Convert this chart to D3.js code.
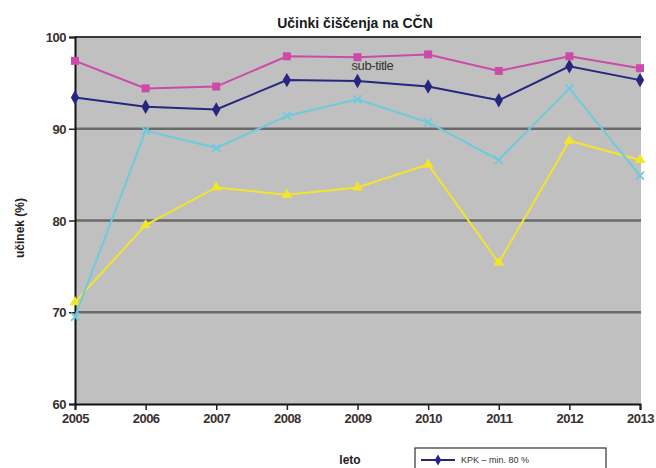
<!DOCTYPE html>
<html>
<head>
<meta charset="utf-8">
<script src="https://cdn.jsdelivr.net/npm/d3@7"></script>
<style>
  body { margin: 0; background: #fff; }
  text { font-family: Arial, "Liberation Sans", sans-serif; }
</style>
</head>
<body>
<div id="chart"></div>
<script>
var svgWidth = 656;
var svgHeight = 468;

var margin = { top: 37, right: 16, bottom: 64, left: 75 };
var width = svgWidth - margin.left - margin.right;
var height = svgHeight - margin.top - margin.bottom;

// data
var years = [2005, 2006, 2007, 2008, 2009, 2010, 2011, 2012, 2013];
var yTicks = [60, 70, 80, 90, 100];
var seriesNames = ["KPK – min. 80 %", "BPK5 – min. 90 %", "Ncel – min. 70 %", "Pcel – min. 80 %"];
var kpk  = [93.4, 92.4, 92.1, 95.3, 95.2, 94.6, 93.1, 96.8, 95.3];
var bpk  = [97.4, 94.4, 94.6, 97.9, 97.8, 98.1, 96.3, 97.9, 96.6];
var ncel = [71.1, 79.5, 83.6, 82.8, 83.6, 86.1, 75.4, 88.7, 86.6];
var pcel = [69.5, 89.8, 87.9, 91.4, 93.2, 90.7, 86.6, 94.4, 84.9];

var series = [
  { name: seriesNames[0], values: kpk,  color: "#262680", marker: d3.symbolDiamond, size: 60 },
  { name: seriesNames[1], values: bpk,  color: "#cc4aa8", marker: d3.symbolSquare,  size: 64 },
  { name: seriesNames[2], values: ncel, color: "#f2e52a", marker: d3.symbolTriangle, size: 50 },
  { name: seriesNames[3], values: pcel, color: "#6ccbdc", marker: "x", size: 0 }
];

var svg = d3.select("#chart")
  .append("svg")
  .attr("width", svgWidth)
  .attr("height", svgHeight);

var chartGroup = svg.append("g")
  .attr("transform", `translate(${margin.left}, ${margin.top})`);

var xScale = d3.scaleLinear()
  .domain([2005, 2013])
  .range([0, width]);

var yScale = d3.scaleLinear()
  .domain([60, 100])
  .range([height, 0]);

// plot background
chartGroup.append("rect")
  .attr("width", width + 1)
  .attr("height", height)
  .attr("fill", "#c0c0c0");

// gridlines
chartGroup.selectAll(".grid")
  .data(yTicks.filter(d => d > 60))
  .enter()
  .append("line")
  .attr("x1", 0)
  .attr("x2", width + 1)
  .attr("y1", d => yScale(d))
  .attr("y2", d => yScale(d))
  .attr("stroke", d => d === 100 ? "#3a3a3a" : "#6a6a6a")
  .attr("stroke-width", d => d === 100 ? 2 : 2.5);

// axes
var leftAxis = d3.axisLeft(yScale).tickValues(yTicks).tickSize(6).tickPadding(3);
var bottomAxis = d3.axisBottom(xScale).tickValues(years).tickFormat(d3.format("d")).tickSize(6).tickPadding(4);

var yAxis = chartGroup.append("g").call(leftAxis);
var xAxis = chartGroup.append("g")
  .attr("transform", `translate(0, ${height})`)
  .call(bottomAxis);

[yAxis, xAxis].forEach(function(ax) {
  ax.select(".domain").attr("stroke", "#111").attr("stroke-width", 2);
  ax.selectAll(".tick line").attr("stroke", "#222").attr("stroke-width", 1.5);
  ax.selectAll("text")
    .attr("fill", "#3a3030")
    .style("font-size", "13px")
    .style("font-weight", "bold")
    .style("letter-spacing", "-0.5px");
});
yAxis.selectAll("text").attr("dy", "0.35em");

// lines and markers
var line = d3.line()
  .x((d, i) => xScale(years[i]))
  .y(d => yScale(d));

series.forEach(function(s) {
  chartGroup.append("path")
    .datum(s.values)
    .attr("d", line)
    .attr("fill", "none")
    .attr("stroke", s.color)
    .attr("stroke-width", 2);

  var pts = chartGroup.selectAll(null)
    .data(s.values)
    .enter()
    .append("g")
    .attr("transform", (d, i) => `translate(${xScale(years[i])}, ${yScale(d)})`);

  if (s.marker === "x") {
    pts.append("path")
      .attr("d", "M-4,-4L4,4M-4,4L4,-4")
      .attr("stroke", s.color)
      .attr("stroke-width", 1.8)
      .attr("fill", "none");
  } else {
    pts.append("path")
      .attr("d", d3.symbol().type(s.marker).size(s.size))
      .attr("fill", s.color);
  }
});

// sub-title inside plot
chartGroup.append("text")
  .attr("x", xScale(2009) - 6)
  .attr("y", 33)
  .attr("fill", "#333")
  .style("font-size", "13px")
  .style("letter-spacing", "-0.4px")
  .text("sub-title");

// title
svg.append("text")
  .attr("x", 355)
  .attr("y", 28)
  .attr("text-anchor", "middle")
  .attr("fill", "#1a1a1a")
  .style("font-size", "14px")
  .style("font-weight", "bold")
  .text("Učinki čiščenja na CČN");

// axis titles
svg.append("text")
  .attr("transform", "translate(24, 228) rotate(-90)")
  .attr("text-anchor", "middle")
  .attr("fill", "#222")
  .style("font-size", "12px")
  .style("font-weight", "bold")
  .text("učinek (%)");

svg.append("text")
  .attr("x", 350)
  .attr("y", 464)
  .attr("text-anchor", "middle")
  .attr("fill", "#222")
  .style("font-size", "12px")
  .style("font-weight", "bold")
  .text("leto");

// legend: the box runs off the bottom of the picture, only the first row shows
var legendTop = 448;
var rowGap = 16;
var legend = svg.append("g")
  .attr("transform", `translate(415, ${legendTop})`);

legend.append("rect")
  .attr("width", 191)
  .attr("height", 76)
  .attr("fill", "#fff")
  .attr("stroke", "#333")
  .attr("stroke-width", 1.2);

series.filter((s, i) => legendTop + 12 + i * rowGap + 5 <= svgHeight).forEach(function(s, i) {
  var row = legend.append("g").attr("transform", `translate(6, ${12 + i * rowGap})`);
  row.append("line")
    .attr("x1", 0).attr("x2", 34)
    .attr("stroke", s.color).attr("stroke-width", 2);
  if (s.marker === "x") {
    row.append("path").attr("d", "M13,-3L21,3M13,3L21,-3").attr("stroke", s.color).attr("stroke-width", 1.5);
  } else {
    row.append("path")
      .attr("transform", "translate(17, 0)")
      .attr("d", d3.symbol().type(s.marker).size(s.size * 0.6))
      .attr("fill", s.color);
  }
  row.append("text")
    .attr("x", 40)
    .attr("dy", "0.35em")
    .attr("fill", "#333")
    .style("font-size", "9px")
    .text(s.name);
});
</script>
</body>
</html>
